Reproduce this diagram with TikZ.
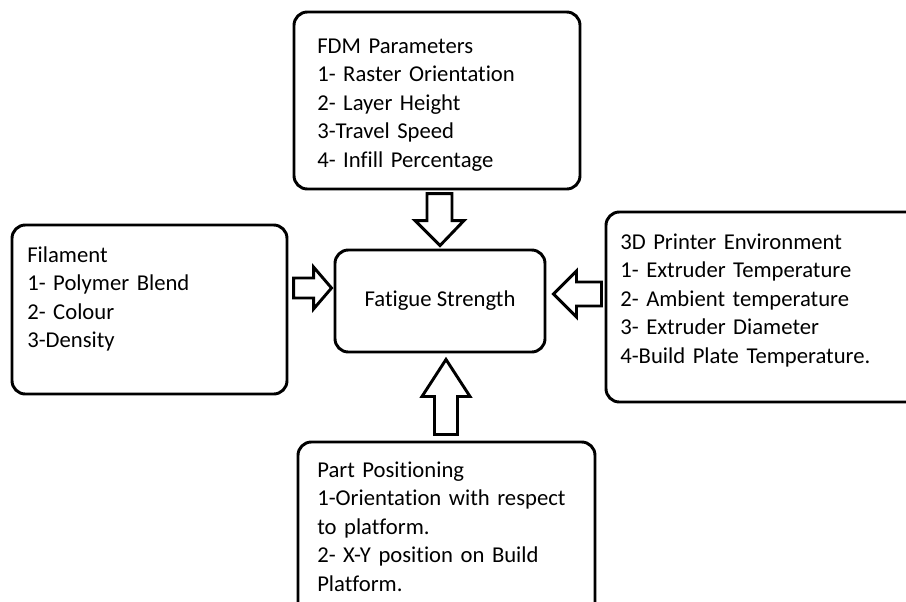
\documentclass[tikz,border=0pt]{standalone}
\usepackage{fontspec}
\setmainfont{Carlito}[Ligatures={NoCommon,NoRequired,NoContextual}]
\usepackage{tikz}
\usetikzlibrary{calc}
\tikzset{
box/.style = {rectangle, draw=black, line width=2.2pt, rounded corners=10pt,
              minimum width=#1, inner sep=0pt},
box/.default = 5cm, % width of the frame
}
\tikzset{
txt/.style = {anchor=base west, inner sep=0pt, text width=7cm, align=left,
              font=\fontsize{17}{21.4}\selectfont}
}
\tikzset{
bigarrow/.style = {draw=black, line width=2.2pt, line join=miter, fill=white}
}

\begin{document}
\begin{tikzpicture}[x=0.75pt, y=-0.75pt]

    \useasboundingbox (0,0) rectangle (906,601);
    \clip (0,0) rectangle (906,601);

    % frames
    \node[box=214.5pt, minimum height=132.75pt] (fdm) at (437,100.5) {};
    \node[box=206.25pt, minimum height=126.75pt] (fil) at (149.5,309.5) {};
    \node[box=157.5pt, minimum height=76.5pt, font=\fontsize{17}{21.4}\selectfont] (fat) at (440,301) {Fatigue Strength};
    \node[box=239.25pt, minimum height=142.5pt] (env) at (765.5,307) {};
    \node[box=222.75pt, minimum height=133.5pt] (pos) at (446.5,531) {};

    % texts
\node[txt] (fdmText) at (317,53) {FDM Parameters\\1- Raster Orientation\\2- Layer Height\\3-Travel Speed\\4- Infill Percentage};
\node[txt] (filText) at (27,262) {Filament\\1- Polymer Blend\\2- Colour\\3-Density};
\node[txt] (envText) at (620,249) {3D Printer Environment\\1- Extruder Temperature\\2- Ambient temperature\\3- Extruder Diameter\\4-Build Plate Temperature.};
\node[txt] (posText) at (317,477) {Part Positioning\\1-Orientation with respect\\to platform.\\2- X-Y position on Build\\Platform.};

    % block arrows into the centre
\draw[bigarrow] ([shift={(0,-3)}]fat.north) -- ++(24,-25) -- ++(-12,0) -- ++(0,-27)
    -- ++(-25,0) -- ++(0,27) -- ++(-12,0) -- cycle;
\draw[bigarrow] ([shift={(6,6)}]fat.south) -- ++(24,37) -- ++(-12.5,0) -- ++(0,38)
    -- ++(-23,0) -- ++(0,-38) -- ++(-12.5,0) -- cycle;
\draw[bigarrow] ([shift={(-2,-13)}]fat.west) -- ++(-18,-21) -- ++(0,11) -- ++(-20,0)
    -- ++(0,20) -- ++(20,0) -- ++(0,11) -- cycle;
\draw[bigarrow] ([shift={(7,-7)}]fat.east) -- ++(23,-23) -- ++(0,11) -- ++(25,0)
    -- ++(0,24) -- ++(-25,0) -- ++(0,11) -- cycle;
\end{tikzpicture}
\end{document}
